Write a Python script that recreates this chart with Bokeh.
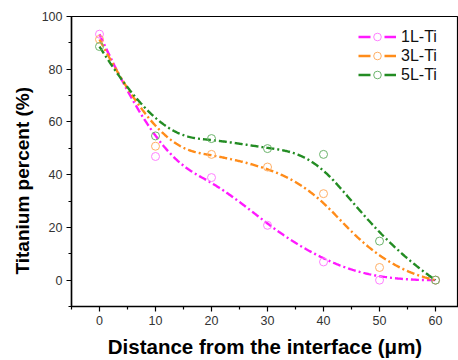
import numpy as np
from bokeh.plotting import figure
from bokeh.models import FixedTicker, Range1d, Legend, LegendItem, Title
from bokeh.embed import file_html
from bokeh.resources import INLINE

# ---- data ----
distance = [0, 10, 20, 30, 40, 50, 60]
ti_1L = [93.3, 46.9, 38.9, 20.8, 6.9, 0.0, 0.0]
ti_3L = [91.3, 50.8, 47.7, 42.9, 32.8, 4.8, 0.0]
ti_5L = [88.6, 54.7, 53.7, 49.9, 47.7, 14.8, 0.0]
series_names = ["1L-Ti", "3L-Ti", "5L-Ti"]
x_ticks = [0, 10, 20, 30, 40, 50, 60]
y_ticks = [0, 20, 40, 60, 80, 100]

line_colors = ["#ff19ff", "#ff8c1a", "#238c23"]
marker_colors = ["#ff80ff", "#ffb066", "#6cb46c"]
FONT = "Liberation Sans"


def bspline(cx, cy, k=3, n=300):
    """Clamped uniform B-spline using the data points as control points."""
    cx = np.asarray(cx, float)
    cy = np.asarray(cy, float)
    m = len(cx)
    inner = np.linspace(0, 1, m - k + 1)
    t = np.concatenate([np.zeros(k), inner, np.ones(k)])
    u = np.linspace(0, 1, n)
    u[-1] = 1 - 1e-12
    N = np.zeros((n, len(t) - 1))
    for i in range(len(t) - 1):
        N[:, i] = ((t[i] <= u) & (u < t[i + 1])).astype(float)
    for d in range(1, k + 1):
        Nn = np.zeros((n, len(t) - 1 - d))
        for i in range(len(t) - 1 - d):
            a = np.zeros(n)
            b = np.zeros(n)
            if t[i + d] > t[i]:
                a = (u - t[i]) / (t[i + d] - t[i]) * N[:, i]
            if t[i + d + 1] > t[i + 1]:
                b = (t[i + d + 1] - u) / (t[i + d + 1] - t[i + 1]) * N[:, i + 1]
            Nn[:, i] = a + b
        N = Nn
    return N @ cx, N @ cy


p = figure(width=458, height=360, output_backend="svg", toolbar_location=None,
           x_range=Range1d(-5, 64.1), y_range=Range1d(-10, 100),
           min_border_left=71, min_border_right=0, min_border_top=16,
           min_border_bottom=53)
p.grid.visible = False
p.background_fill_color = "white"
p.border_fill_color = "white"
p.outline_line_color = "black"
p.outline_line_width = 1.2

items = []
for name, ys, lc, mc in zip(series_names, [ti_1L, ti_3L, ti_5L], line_colors, marker_colors):
    sx, sy = bspline(distance, ys)
    p.line(sx, sy, line_color=lc, line_width=2.4, line_dash="8 3 2 3")
    sc = p.scatter(distance, ys, size=8, marker="circle", fill_color=None,
                   line_color=mc, line_width=1)
    dl = p.line(x=[-100, -99], y=[-100, -100], line_color=lc, line_width=2.4,
                line_dash="12 14")
    items.append(LegendItem(label=name, renderers=[dl, sc]))

legend = Legend(items=items, location=(287, 222), padding=0, margin=0, spacing=0,
                glyph_width=38, glyph_height=19, label_height=19, label_standoff=5,
                label_text_font=FONT, label_text_font_size="16px",
                label_text_color="#111111", background_fill_alpha=0,
                border_line_color=None)
p.add_layout(legend, "center")

for ax in [p.xaxis[0], p.yaxis[0]]:
    ax.axis_line_color = "black"
    ax.axis_line_width = 1.5
    ax.major_tick_line_color = "black"
    ax.minor_tick_line_color = "black"
    ax.major_tick_line_width = 1.2
    ax.minor_tick_line_width = 1.2
    ax.major_tick_out = 5
    ax.major_tick_in = 0
    ax.minor_tick_out = 3
    ax.minor_tick_in = 0
    ax.major_label_text_font = FONT
    ax.major_label_text_font_size = "12.5px"
    ax.major_label_text_color = "#333333"
    ax.major_label_standoff = 4

p.xaxis.ticker = FixedTicker(ticks=x_ticks, minor_ticks=[-5, 5, 15, 25, 35, 45, 55, 65])
p.yaxis.ticker = FixedTicker(ticks=y_ticks, minor_ticks=[-10, 10, 30, 50, 70, 90])

p.xaxis.axis_label = "Distance from the interface (\u03bcm)"
p.xaxis.axis_label_text_font = FONT
p.xaxis.axis_label_text_font_size = "20.5px"
p.xaxis.axis_label_text_font_style = "bold"
p.xaxis.axis_label_text_color = "black"
p.xaxis.axis_label_standoff = 7

ytitle = Title(text="Titanium percent (%)", align="left", offset=32,
               text_font=FONT, text_font_size="19px", text_font_style="bold",
               text_color="black", standoff=11)
p.add_layout(ytitle, "left")

open("out.html", "w").write(file_html(p, INLINE))
